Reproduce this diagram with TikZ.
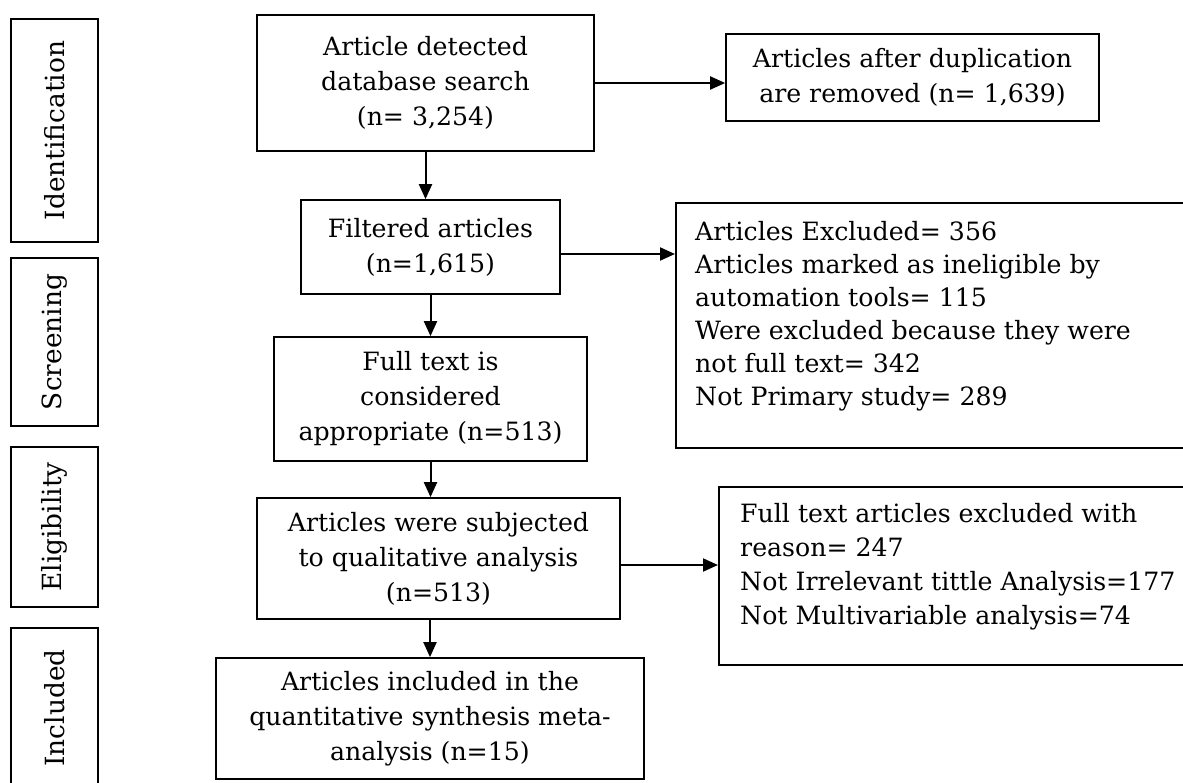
\documentclass[tikz,border=0pt]{standalone}
\usepackage{fontspec}
\setmainfont{DejaVu Serif}
\usetikzlibrary{arrows.meta,calc}
\begin{document}
\begin{tikzpicture}[x=1pt,y=-1pt,
  box/.style={draw,line width=1.7pt,inner sep=0pt,align=center,font=\fontsize{25.2}{35}\selectfont},
  side/.style={draw,line width=1.7pt,inner sep=0pt,minimum width=87pt},
  sidetxt/.style={rotate=90,inner sep=0pt,font=\fontsize{26.4}{30}\selectfont},
  ltxt/.style={inner sep=0pt,anchor=north west,align=left,font=\fontsize{25.2}{33}\selectfont},
  conn/.style={line width=2pt,-{Triangle[length=15pt,width=13pt]}}]
\useasboundingbox (0,0) rectangle (1183,782);
\clip (0,0) rectangle (1183,782);
% phase boxes on the left
\node[side,minimum height=223pt] (pid) at (54.5,130.5) {};
\node[sidetxt] (tid) at (pid.center) {Identification};
\node[side,minimum height=168pt] (psc) at (54.5,342) {};
\node[sidetxt] (tsc) at (psc.center) {Screening};
\node[side,minimum height=160pt] (pel) at (54.5,527) {};
\node[sidetxt] (tel) at (pel.center) {Eligibility};
\node[side,minimum height=160pt] (pin) at (54.5,708) {};
\node[sidetxt] (tin) at (pin.center) {Included};
% main flow
\node[box,minimum width=337pt,minimum height=136pt] (det) at (425.5,83) {Article detected\\database search\\(n= 3,254)};
\node[box,minimum width=373pt,minimum height=87pt] (dup) at (912.5,77.5) {Articles after duplication\\are removed (n= 1,639)};
\node[box,minimum width=259pt,minimum height=94pt] (filt) at (430.5,247) {Filtered articles\\(n=1,615)};
\node[box,minimum width=313pt,minimum height=124pt] (full) at (430.5,399) {Full text is\\considered\\appropriate (n=513)};
\node[box,minimum width=363pt,minimum height=121pt] (subj) at (438.5,558.5) {Articles were subjected\\to qualitative analysis\\(n=513)};
\node[box,minimum width=428pt,minimum height=121pt] (incl) at (430,718.5) {Articles included in the\\quantitative synthesis meta-\\analysis (n=15)};
% exclusion boxes
\node[draw,line width=1.7pt,inner sep=0pt,anchor=north west,minimum width=540pt,minimum height=245pt] (exa) at (675,202) {};
\node[ltxt] (exat) at (695,221) {Articles Excluded= 356\\Articles marked as ineligible by\\automation tools= 115\\Were excluded because they were\\not full text= 342\\Not Primary study= 289};
\node[draw,line width=1.7pt,inner sep=0pt,anchor=north west,minimum width=500pt,minimum height=178pt] (exb) at (718,486) {};
\node[ltxt,font=\fontsize{25.2}{34}\selectfont] (exbt) at (740,503) {Full text articles excluded with\\reason= 247\\Not Irrelevant tittle Analysis=177\\Not Multivariable analysis=74};
% connectors
\draw[conn] (det.east) -- (dup.west |- det.east);
\draw[conn] (det.south) -- (det.south |- filt.north);
\draw[conn] ([yshift=-7pt]filt.east) -- ([yshift=-7pt]filt.east -| exa.west);
\draw[conn] (filt.south) -- (filt.south |- full.north);
\draw[conn] (full.south) -- (full.south |- subj.north);
\draw[conn] ([yshift=-6.5pt]subj.east) -- ([yshift=-6.5pt]subj.east -| exb.west);
\draw[conn] (subj.south -| incl.north) -- (incl.north);
\end{tikzpicture}
\end{document}
